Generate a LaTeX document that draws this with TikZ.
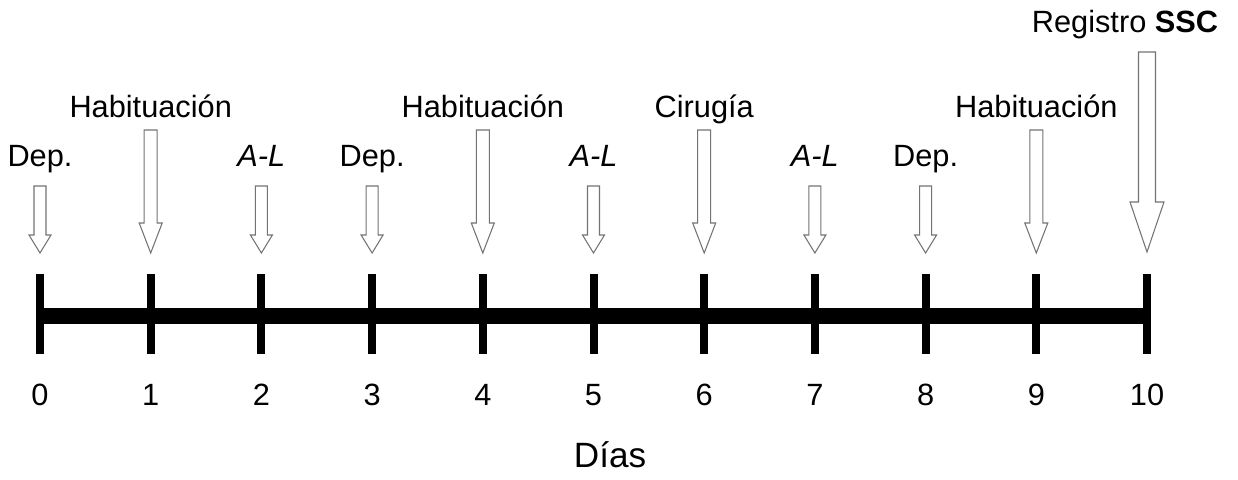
\documentclass[tikz,border=0pt]{standalone}
\usepackage{fontspec}
\setmainfont{Liberation Sans}
\usetikzlibrary{calc}

\tikzset{
  daytext/.style={font=\fontsize{17.5}{20}\selectfont, inner sep=0pt, anchor=base},
  hollow/.style={draw=black!55, fill=white, line width=0.6pt, line join=miter},
}

% hollow block arrow, drawn around (0,0): top, head start, tip, half shaft, half head
\newcommand{\hollowarrow}[5]{%
  \draw[hollow] (-#4,#1) -- (#4,#1) -- (#4,#2) -- (#5,#2) -- (0,#3)
    -- (-#5,#2) -- (-#4,#2) -- cycle;}

\begin{document}
\begin{tikzpicture}[x=0.02cm, y=-0.02cm]
		\useasboundingbox (0,0) rectangle (1238,480);
		
		% Days
		\foreach \d in {0,...,10}
			\coordinate (d\d) at ({40+110.7*\d},316);
		
		% Time line
		\draw[line width=0.32cm] (d0) -- (d10);
		\foreach \d in {0,...,10} {
			\draw[line width=0.16cm] ($(d\d)+(0,-42)$) -- ($(d\d)+(0,38)$);
			\node[daytext] (n\d) at ($(d\d)+(0,89)$) {\d};
		}
		\node[daytext, font=\fontsize{20}{24}\selectfont] (dias) at (610,467) {Días};
		
		% Short arrows
		\foreach \d/\txt in {0/Dep., 2/\textit{A-L}, 3/Dep., 5/\textit{A-L}, 7/\textit{A-L}, 8/Dep.} {
			\begin{scope}[shift={(d\d)}]
				\hollowarrow{-130}{-81}{-63}{6}{11}
				\node[daytext] (t\d) at (0,-150) {\txt};
			\end{scope}
		}
		
		% Long arrows
		\foreach \d/\txt in {1/Habituación, 4/Habituación, 6/Cirugía, 9/Habituación} {
			\begin{scope}[shift={(d\d)}]
				\hollowarrow{-186}{-93}{-63}{6.5}{11.5}
				\node[daytext] (t\d) at (0,-199) {\txt};
			\end{scope}
		}
		
		% Recording
		\begin{scope}[shift={(d10)}]
			\hollowarrow{-264}{-114}{-64}{8.5}{17}
			\node[daytext] (t10) at (-22,-284) {Registro \textbf{SSC}};
		\end{scope}
	\end{tikzpicture}
\end{document}
